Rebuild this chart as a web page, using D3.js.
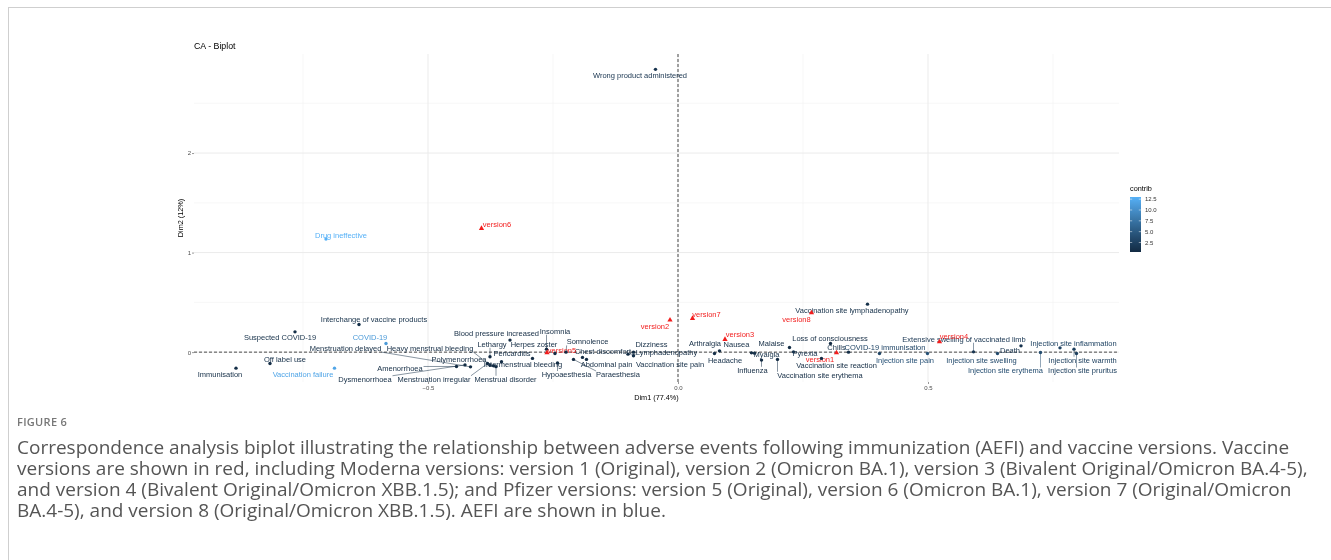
<!DOCTYPE html>
<html>
<head>
<meta charset="utf-8">
<script src="https://cdn.jsdelivr.net/npm/d3@7"></script>
<style>
  body { margin: 0; background: #fff; }
  svg { will-change: transform; }
  svg text { font-family: "Liberation Sans", Arial, sans-serif; }
</style>
</head>
<body>
<div id="biplot"></div>
<script>
// ---- data ----
// AEFI (row points)
var aefiNames = ["Wrong product administered", "Drug ineffective", "Interchange of vaccine products",
  "Suspected COVID-19", "COVID-19", "Off label use", "Immunisation", "Vaccination failure",
  "Amenorrhoea", "Dysmenorrhoea", "Menstruation delayed", "Heavy menstrual bleeding",
  "Menstruation irregular", "Polymenorrhoea", "Menstrual disorder", "Lethargy",
  "Blood pressure increased", "Pericarditis", "Intermenstrual bleeding", "Insomnia",
  "Herpes zoster", "Somnolence", "Chest discomfort", "Abdominal pain", "Hypoaesthesia",
  "Paraesthesia", "Dizziness", "Lymphadenopathy", "Vaccination site pain", "Arthralgia",
  "Headache", "Nausea", "Myalgia", "Influenza", "Malaise", "Pyrexia",
  "Vaccination site erythema", "Vaccination site reaction", "Vaccination site lymphadenopathy",
  "Loss of consciousness", "Chills", "COVID-19 immunisation", "Injection site pain",
  "Extensive swelling of vaccinated limb", "Injection site swelling", "Death",
  "Injection site erythema", "Injection site inflammation", "Injection site warmth",
  "Injection site pruritus"];
var aefiDim1 = [-0.045, -0.704, -0.638, -0.766, -0.584, -0.816, -0.884, -0.687,
  -0.443, -0.426, -0.415, -0.376, -0.381, -0.369, -0.364, -0.376,
  -0.336, -0.353, -0.291, -0.263, -0.246, -0.224, -0.191, -0.183, -0.241,
  -0.209, -0.089, -0.100, -0.089, 0.083, 0.073, 0.147, 0.153, 0.167, 0.223, 0.231,
  0.199, 0.287, 0.379, 0.305, 0.341, 0.403, 0.499, 0.591, 0.639, 0.686,
  0.725, 0.764, 0.792, 0.797];
var aefiDim2 = [2.841, 1.136, 0.278, 0.204, 0.087, -0.114, -0.161, -0.161,
  -0.144, -0.128, -0.148, -0.131, -0.114, -0.138, -0.146, -0.047,
  0.121, -0.097, -0.063, 0.030, -0.013, 0.000, -0.053, -0.073, -0.108,
  -0.073, 0.000, -0.020, -0.037, 0.013, -0.013, -0.007, -0.010, -0.080, 0.047, 0.003,
  -0.073, -0.063, 0.482, 0.087, 0.000, -0.013, -0.013, 0.003, -0.013, 0.063,
  -0.003, 0.043, 0.030, -0.013];
var aefiContrib = [1.2, 13, 0.8, 0.8, 11, 0.6, 0.6, 12,
  0.4, 0.4, 0.4, 0.5, 0.4, 0.3, 0.5, 0.3,
  0.3, 0.4, 0.3, 0.3, 0.4, 0.3, 0.4, 0.3, 0.4,
  0.3, 0.5, 0.4, 0.6, 0.5, 0.7, 0.5, 0.8, 0.3, 0.4, 1.0,
  0.5, 0.4, 0.8, 0.3, 0.7, 3.0, 4.2, 1.5, 3.5, 1.2,
  3.8, 2.8, 2.5, 2.5];

// vaccine versions (column points)
var versionNames = ["version1", "version2", "version3", "version4", "version5", "version6", "version7", "version8"];
var versionDim1 = [0.317, -0.016, 0.094, 0.523, -0.262, -0.393, 0.029, 0.267];
var versionDim2 = [-0.007, 0.322, 0.128, 0.104, -0.005, 1.243, 0.339, 0.395];

var xTicks = [-0.5, 0.0, 0.5];
var yTicks = [0, 1, 2];
var legendTicks = [2.5, 5.0, 7.5, 10.0, 12.5];

// where the repelled labels ended up (data units)
var aefiLabelAt = [[-0.076, 2.784], [-0.674, 1.176], [-0.608, 0.325],
  [-0.796, 0.151], [-0.616, 0.151], [-0.786, -0.070], [-0.916, -0.221], [-0.750, -0.221],
  [-0.556, -0.161], [-0.626, -0.271], [-0.665, 0.037], [-0.496, 0.037],
  [-0.488, -0.271], [-0.438, -0.070], [-0.345, -0.271], [-0.372, 0.080],
  [-0.363, 0.188], [-0.332, -0.013], [-0.310, -0.124], [-0.246, 0.211],
  [-0.288, 0.080], [-0.181, 0.104], [-0.150, 0.010], [-0.143, -0.124], [-0.223, -0.224],
  [-0.120, -0.224], [-0.053, 0.080], [-0.023, -0.007], [-0.016, -0.124], [0.054, 0.087],
  [0.094, -0.080], [0.117, 0.077], [0.177, -0.020], [0.149, -0.181], [0.187, 0.093], [0.254, -0.013],
  [0.284, -0.231], [0.317, -0.131], [0.348, 0.422],
  [0.304, 0.134], [0.317, 0.047], [0.414, 0.047], [0.454, -0.080],
  [0.572, 0.131], [0.607, -0.080], [0.664, 0.020],
  [0.655, -0.188], [0.791, 0.093], [0.809, -0.080], [0.809, -0.188]];
var versionLabelAt = [[0.284, -0.073], [-0.046, 0.261], [0.124, 0.181], [0.552, 0.156],
  [-0.232, 0.015], [-0.362, 1.286], [0.057, 0.382], [0.237, 0.332]];

var captionLabel = "FIGURE 6";
var captionLines = [
  "Correspondence analysis biplot illustrating the relationship between adverse events following immunization (AEFI) and vaccine versions. Vaccine",
  "versions are shown in red, including Moderna versions: version 1 (Original), version 2 (Omicron BA.1), version 3 (Bivalent Original/Omicron BA.4-5),",
  "and version 4 (Bivalent Original/Omicron XBB.1.5); and Pfizer versions: version 5 (Original), version 6 (Omicron BA.1), version 7 (Original/Omicron",
  "BA.4-5), and version 8 (Original/Omicron XBB.1.5). AEFI are shown in blue."
];

// ---- layout ----
var W = 1331, H = 560;
var plot = {left: 194, right: 1119, top: 54, bottom: 382};

var svg = d3.select("#biplot")
  .append("svg")
    .attr("width", W)
    .attr("height", H);

svg.append("rect").attr("width", W).attr("height", H).attr("fill", "#fff");

// figure frame
svg.append("rect")
  .attr("x", 8.5).attr("y", 7.5)
  .attr("width", W + 20).attr("height", H + 20)
  .attr("fill", "none")
  .attr("stroke", "#cfcfcf");

var x = d3.scaleLinear().domain([-0.968, 0.882]).range([plot.left, plot.right]);
var y = d3.scaleLinear().domain([-0.30, 2.995]).range([plot.bottom, plot.top]);

var color = d3.scaleLinear()
  .domain(d3.extent(aefiContrib))
  .range(["#132B43", "#56B1F7"])
  .interpolate(d3.interpolateLab);

// grid (minor then major)
var g = svg.append("g");
var xMinor = [-0.75, -0.25, 0.25, 0.75], yMinor = [0.5, 1.5, 2.5];
g.selectAll(".xminor").data(xMinor).enter().append("line")
  .attr("x1", d => x(d)).attr("x2", d => x(d))
  .attr("y1", plot.top).attr("y2", plot.bottom)
  .attr("stroke", "#f2f2f2").attr("stroke-width", 0.6);
g.selectAll(".yminor").data(yMinor).enter().append("line")
  .attr("y1", d => y(d)).attr("y2", d => y(d))
  .attr("x1", plot.left).attr("x2", plot.right)
  .attr("stroke", "#f2f2f2").attr("stroke-width", 0.6);
g.selectAll(".xmajor").data(xTicks).enter().append("line")
  .attr("x1", d => x(d)).attr("x2", d => x(d))
  .attr("y1", plot.top).attr("y2", plot.bottom)
  .attr("stroke", "#ebebeb").attr("stroke-width", 1);
g.selectAll(".ymajor").data(yTicks).enter().append("line")
  .attr("y1", d => y(d)).attr("y2", d => y(d))
  .attr("x1", plot.left).attr("x2", plot.right)
  .attr("stroke", "#ebebeb").attr("stroke-width", 1);

// axes
var xAxis = svg.append("g")
  .attr("transform", "translate(0," + plot.bottom + ")")
  .call(d3.axisBottom(x).tickValues(xTicks).tickFormat(d3.format(".1f")).tickSize(2).tickPadding(2));
var yAxis = svg.append("g")
  .attr("transform", "translate(" + plot.left + ",0)")
  .call(d3.axisLeft(y).tickValues(yTicks).tickFormat(d3.format("d")).tickSize(2).tickPadding(1));
[xAxis, yAxis].forEach(function(a) {
  a.select(".domain").remove();
  a.selectAll("line").attr("stroke", "#333").attr("stroke-width", 0.5);
  a.selectAll("text").attr("fill", "#4d4d4d").style("font-size", "6px");
});

svg.append("text")
  .attr("x", (plot.left + plot.right) / 2).attr("y", 400)
  .attr("text-anchor", "middle")
  .style("font-size", "7.3px")
  .text("Dim1 (77.4%)");
svg.append("text")
  .attr("transform", "translate(183," + (plot.top + plot.bottom) / 2 + ")rotate(-90)")
  .attr("text-anchor", "middle")
  .style("font-size", "7.3px")
  .text("Dim2 (12%)");
svg.append("text")
  .attr("x", plot.left).attr("y", 49)
  .style("font-size", "8.8px")
  .text("CA - Biplot");

// dashed origin lines
svg.append("line")
  .attr("x1", x(0)).attr("x2", x(0)).attr("y1", plot.top).attr("y2", plot.bottom)
  .attr("stroke", "#000").attr("stroke-width", 0.7).attr("stroke-dasharray", "3,2");
svg.append("line")
  .attr("x1", plot.left).attr("x2", plot.right).attr("y1", y(0)).attr("y2", y(0))
  .attr("stroke", "#000").attr("stroke-width", 0.7).attr("stroke-dasharray", "3,2");

// build rows for drawing
var aefi = aefiNames.map(function(n, i) {
  return {name: n, d1: aefiDim1[i], d2: aefiDim2[i], col: color(aefiContrib[i]),
          lx: aefiLabelAt[i][0], ly: aefiLabelAt[i][1]};
});
var versions = versionNames.map(function(n, i) {
  return {name: n, d1: versionDim1[i], d2: versionDim2[i], col: "#f21d1d",
          lx: versionLabelAt[i][0], ly: versionLabelAt[i][1]};
});
var all = aefi.concat(versions);

// labels first so segments can be measured against them
var segLayer = svg.append("g");
var labels = svg.append("g").selectAll("text")
  .data(all).enter().append("text")
    .attr("x", d => x(d.lx))
    .attr("y", d => y(d.ly))
    .attr("text-anchor", "middle")
    .attr("dy", "0.35em")
    .attr("fill", d => d.col)
    .style("font-size", "7.5px")
    .text(d => d.name);

// segments from point to label box (like ggrepel), only if the label moved far enough
labels.each(function(d) {
  var b = this.getBBox();
  var px = x(d.d1), py = y(d.d2);
  var cx = Math.max(b.x, Math.min(px, b.x + b.width));
  var cy = Math.max(b.y + 1, Math.min(py, b.y + b.height - 1));
  if (Math.hypot(px - cx, py - cy) > 6) {
    segLayer.append("line")
      .attr("x1", px).attr("y1", py).attr("x2", cx).attr("y2", cy)
      .attr("stroke", d.col).attr("stroke-width", 0.5);
  }
});

// points
svg.append("g").selectAll("circle")
  .data(aefi).enter().append("circle")
    .attr("cx", d => x(d.d1))
    .attr("cy", d => y(d.d2))
    .attr("r", 1.7)
    .attr("fill", d => d.col);
svg.append("g").selectAll("path")
  .data(versions).enter().append("path")
    .attr("transform", d => "translate(" + x(d.d1) + "," + y(d.d2) + ")")
    .attr("d", d3.symbol().type(d3.symbolTriangle).size(12))
    .attr("fill", d => d.col);

// colour bar legend
var lg = svg.append("g");
var barTop = 197, barBottom = 252, barX = 1130, barW = 11;
var ly = d3.scaleLinear().domain(d3.extent(aefiContrib)).range([barBottom, barTop]);
var grad = svg.append("defs").append("linearGradient")
  .attr("id", "contribGrad").attr("x1", 0).attr("x2", 0).attr("y1", 1).attr("y2", 0);
d3.range(0, 1.01, 0.1).forEach(function(t) {
  grad.append("stop").attr("offset", t)
    .attr("stop-color", color(color.domain()[0] + t * (color.domain()[1] - color.domain()[0])));
});
lg.append("text").attr("x", barX).attr("y", 191).style("font-size", "7.3px").text("contrib");
lg.append("rect")
  .attr("x", barX).attr("y", barTop).attr("width", barW).attr("height", barBottom - barTop)
  .attr("fill", "url(#contribGrad)");
lg.selectAll(".tk").data(legendTicks).enter().append("line")
  .attr("x1", barX).attr("x2", barX + 2.2).attr("y1", d => ly(d)).attr("y2", d => ly(d))
  .attr("stroke", "#fff").attr("stroke-width", 0.5);
lg.selectAll(".tk2").data(legendTicks).enter().append("line")
  .attr("x1", barX + barW - 2.2).attr("x2", barX + barW).attr("y1", d => ly(d)).attr("y2", d => ly(d))
  .attr("stroke", "#fff").attr("stroke-width", 0.5);
lg.selectAll(".tl").data(legendTicks).enter().append("text")
  .attr("x", barX + barW + 4).attr("y", d => ly(d)).attr("dy", "0.35em")
  .attr("fill", "#333")
  .style("font-size", "6px")
  .text(d3.format(".1f"));

// caption
var cap = svg.append("g");
cap.append("text")
  .attr("x", 17).attr("y", 426)
  .attr("fill", "#777")
  .style("font-family", "'Open Sans', sans-serif")
  .style("font-size", "11px")
  .style("font-weight", "600")
  .style("letter-spacing", "0.3px")
  .text(captionLabel);
var capText = cap.selectAll(".cl").data(captionLines).enter().append("text")
  .attr("x", 17)
  .attr("y", (d, i) => 454 + i * 21)
  .attr("fill", "#555")
  .style("font-family", "'Open Sans', sans-serif")
  .style("font-size", "15px")
  .text(d => d);
// fit the first line to the width used in the figure
var w0 = capText.node().getComputedTextLength();
capText.style("font-size", (15 * 1273 / w0).toFixed(2) + "px");
</script>
</body>
</html>
